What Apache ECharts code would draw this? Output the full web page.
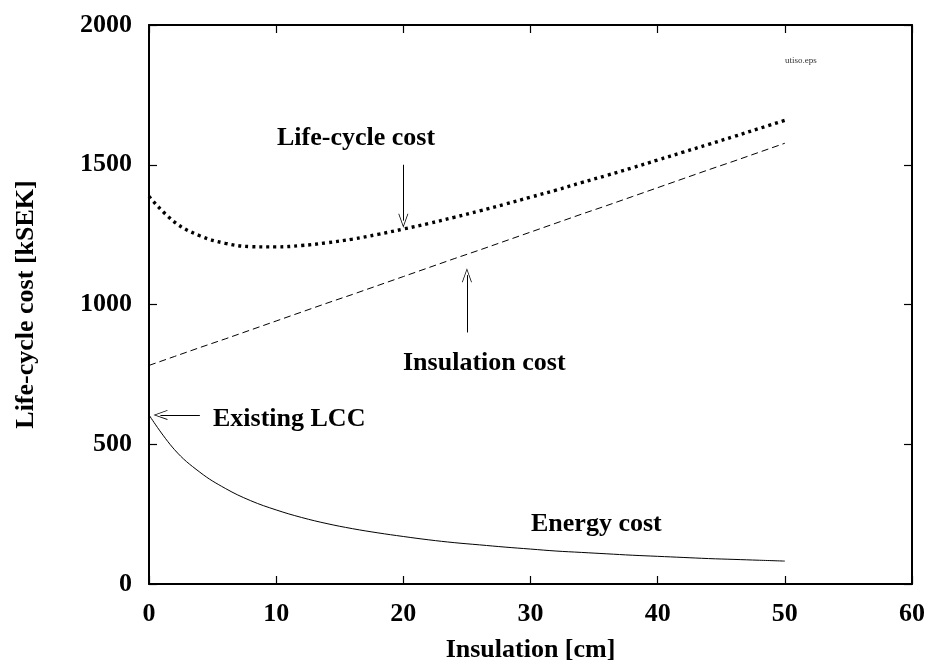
<!DOCTYPE html>
<html>
<head>
<meta charset="utf-8">
<script src="https://cdn.jsdelivr.net/npm/echarts@6/dist/echarts.min.js"></script>
<style>
html,body{margin:0;padding:0;background:#fff;}
#c{width:933px;height:665px;}
</style>
</head>
<body>
<div id="c"></div>
<script>
// Insulation thickness [cm]
const insulation = [0,2,4,6,8,10,12,14,16,18,20,22,24,26,28,30,32,34,36,38,40,42,44,46,48,50];
// Energy cost [kSEK]
const energyCost = [605,481,400,342,298,265,238,216,198,183,170,158,148,140,132,125,118,113,108,103,99,95,91,88,85,82];
// Insulation cost [kSEK]
const insulationCost = [782,814,846,877,909,941,973,1005,1036,1068,1100,1132,1164,1195,1227,1259,1291,1323,1354,1386,1418,1450,1482,1513,1545,1577];
// Life-cycle cost [kSEK]
const lifeCycleCost = [1387,1295,1246,1219,1207,1206,1211,1221,1234,1251,1270,1290,1312,1335,1359,1384,1409,1436,1462,1489,1517,1545,1573,1601,1630,1659];
// Axis ticks
const xTicks = [0,10,20,30,40,50,60];
const yTicks = [0,500,1000,1500,2000];

const FONT = '"Liberation Serif","Times New Roman",serif';
const pair = (xs, ys) => xs.map((x, i) => [x, ys[i]]);
const arrowHead = 'path://M5,0 L10,13 L9.2,13 L5,2 L0.8,13 L0,13 Z';

const chart = echarts.init(document.getElementById('c'));
const axisCommon = () => ({
  axisLine: {show: true, onZero: false, lineStyle: {color: '#000', width: 2}},
  axisTick: {show: true, inside: true, length: 8, lineStyle: {color: '#000', width: 1.2}},
  splitLine: {show: false}
});
const labelFmt = v => String(v);
chart.setOption({
  animation: false,
  backgroundColor: '#fff',
  grid: {left: 149, right: 21, top: 25, bottom: 81, containLabel: false, outerBoundsMode: 'none'},
  xAxis: [
    Object.assign({
      type: 'value', position: 'bottom', min: xTicks[0], max: xTicks[xTicks.length-1], interval: 10,
      name: 'Insulation [cm]', nameLocation: 'middle', nameGap: 53,
      nameTextStyle: {fontFamily: FONT, fontWeight: 'bold', fontSize: 26, color: '#000'},
      axisLabel: {fontFamily: FONT, fontWeight: 'bold', fontSize: 26, color: '#000', margin: 17, formatter: labelFmt}
    }, axisCommon()),
    Object.assign({
      type: 'value', position: 'top', min: xTicks[0], max: xTicks[xTicks.length-1], interval: 10,
      axisLabel: {show: false}
    }, axisCommon())
  ],
  yAxis: [
    Object.assign({
      type: 'value', position: 'left', min: yTicks[0], max: yTicks[yTicks.length-1], interval: 500,
      name: 'Life-cycle cost [kSEK]', nameLocation: 'middle', nameGap: 110, nameRotate: 90,
      nameTextStyle: {fontFamily: FONT, fontWeight: 'bold', fontSize: 26, color: '#000'},
      axisLabel: {fontFamily: FONT, fontWeight: 'bold', fontSize: 26, color: '#000', margin: 17, formatter: labelFmt}
    }, axisCommon()),
    Object.assign({
      type: 'value', position: 'right', min: yTicks[0], max: yTicks[yTicks.length-1], interval: 500,
      axisLabel: {show: false}
    }, axisCommon())
  ],
  series: [
    {
      name: 'Life-cycle cost', type: 'line', data: pair(insulation, lifeCycleCost),
      showSymbol: false, smooth: 0.4,
      lineStyle: {color: '#000', width: 3.4, type: [3, 4], cap: 'butt'},
      markLine: {
        silent: true, symbol: ['none', arrowHead], symbolSize: [10, 14],
        lineStyle: {color: '#000', width: 1, type: 'solid'}, label: {show: false},
        data: [
          [{coord: [20, 1500]}, {coord: [20, 1300]}]
        ]
      }
    },
    {
      name: 'Insulation cost', type: 'line', data: pair(insulation, insulationCost),
      showSymbol: false,
      lineStyle: {color: '#000', width: 1, type: [7, 4]},
      markLine: {
        silent: true, symbol: ['none', arrowHead], symbolSize: [10, 14],
        lineStyle: {color: '#000', width: 1, type: 'solid'}, label: {show: false},
        data: [
          [{coord: [25, 900]}, {coord: [25, 1105]}]
        ]
      }
    },
    {
      name: 'Energy cost', type: 'line', data: pair(insulation, energyCost),
      showSymbol: false, smooth: 0.4,
      lineStyle: {color: '#000', width: 1, type: 'solid'},
      markLine: {
        silent: true, symbol: ['none', arrowHead], symbolSize: [10, 14],
        lineStyle: {color: '#000', width: 1, type: 'solid'}, label: {show: false},
        data: [
          [{coord: [4, 605]}, {coord: [0.9, 605]}]
        ]
      }
    }
  ],
  graphic: [
    {type: 'text', left: 277, top: 125, style: {text: 'Life-cycle cost', font: 'bold 26px ' + FONT, fill: '#000'}},
    {type: 'text', left: 403, top: 350, style: {text: 'Insulation cost', font: 'bold 26px ' + FONT, fill: '#000'}},
    {type: 'text', left: 213, top: 406, style: {text: 'Existing LCC', font: 'bold 26px ' + FONT, fill: '#000'}},
    {type: 'text', left: 531, top: 511, style: {text: 'Energy cost', font: 'bold 26px ' + FONT, fill: '#000'}},
    {type: 'text', left: 785, top: 56, style: {text: 'utiso.eps', font: '9px ' + FONT, fill: '#333'}}
  ]
});
</script>
</body>
</html>
